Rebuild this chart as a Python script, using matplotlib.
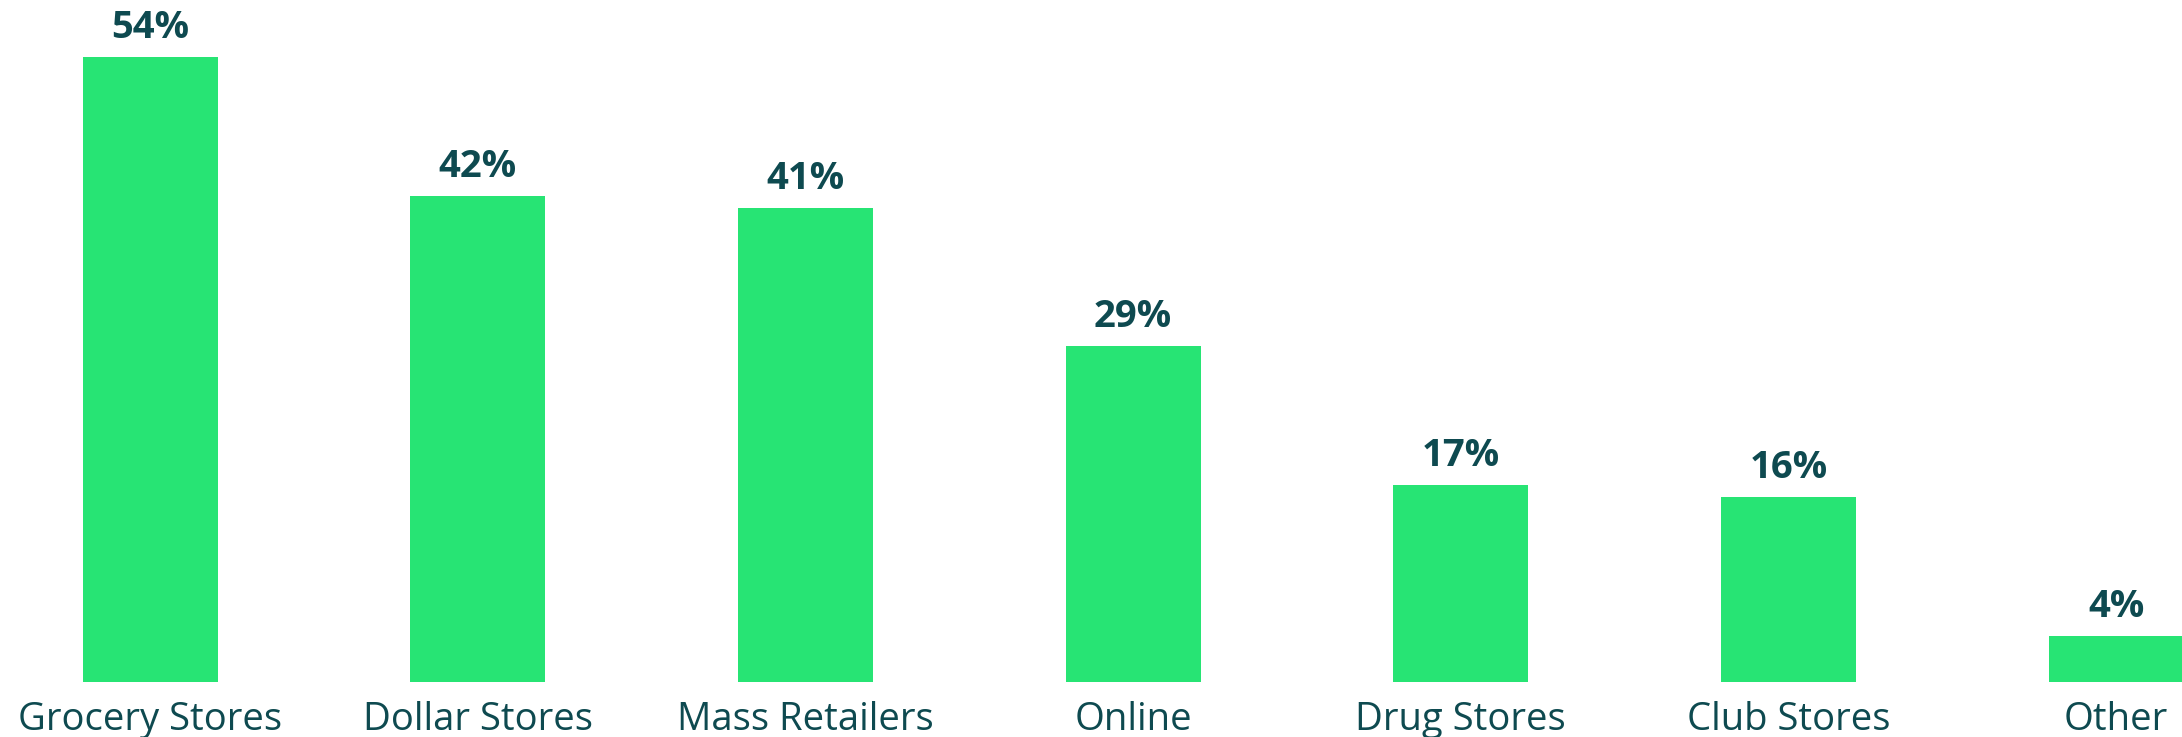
import matplotlib
matplotlib.use("Agg")
import matplotlib.pyplot as plt

categories = ["Grocery Stores", "Dollar Stores", "Mass Retailers", "Online",
              "Drug Stores", "Club Stores", "Other"]
shares = [54, 42, 41, 29, 17, 16, 4]

BAR_COLOR = "#27e474"
TEXT_COLOR = "#0e4a50"

fig = plt.figure(figsize=(21.82, 7.37), dpi=100)
ax = fig.add_axes([0, 0, 1, 1])

x = list(range(len(categories)))
ax.bar(x, shares, width=0.412, color=BAR_COLOR, linewidth=0)

for xi, v, name in zip(x, shares, categories):
    ax.annotate(f"{v}%", xy=(xi, v), xytext=(0, 13.7), textcoords="offset points",
                ha="center", va="baseline", fontsize=27.5, fontweight="bold",
                family="Open Sans", color=TEXT_COLOR)
    ax.annotate(name, xy=(xi, 0), xytext=(0, -34.5), textcoords="offset points",
                ha="center", va="baseline", fontsize=27.5, fontweight="normal",
                family="Open Sans", color=TEXT_COLOR)

ax.set_xlim(-0.458, 6.201)
ax.set_ylim(-4.75, 58.94)
ax.axis("off")

fig.savefig("out.png", dpi=100, facecolor="white")
